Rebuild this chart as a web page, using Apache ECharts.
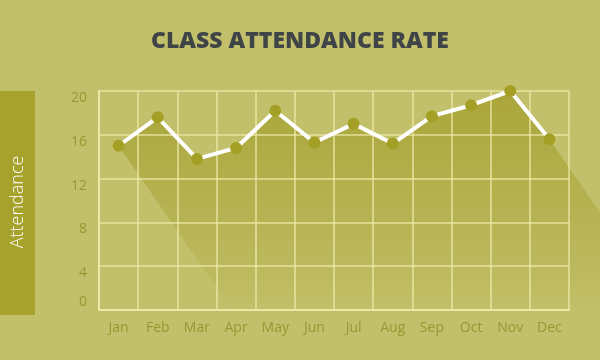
<!DOCTYPE html>
<html>
<head>
<meta charset="utf-8">
<script src="https://cdn.jsdelivr.net/npm/echarts@6/dist/echarts.min.js"></script>
<style>
  html, body { margin: 0; padding: 0; background: #c3c06b; }
  #chart { width: 600px; height: 360px; }
</style>
</head>
<body>
<div id="chart"></div>
<script>
const months = ['Jan','Feb','Mar','Apr','May','Jun','Jul','Aug','Sep','Oct','Nov','Dec'];
const attendance = [15, 17.6, 13.8, 14.8, 18.2, 15.3, 17.0, 15.2, 17.7, 18.7, 20, 15.6];
const yTicks = [0, 4, 8, 12, 16, 20];
const titleText = 'CLASS ATTENDANCE RATE';
const yAxisTitle = 'Attendance';

const chart = echarts.init(document.getElementById('chart'));

function renderShadow(params, api) {
  const pts = attendance.map((v, i) => api.coord([i, v]));
  const dx = 1, dy = 1.45, L = 400;
  const off = pts.map(p => [p[0] + dx * L, p[1] + dy * L]).reverse();
  return {
    type: 'polygon',
    shape: { points: pts.concat(off) },
    style: {
      fill: new echarts.graphic.LinearGradient(0, 95, 0, 314, [
        { offset: 0, color: 'rgba(150,145,20,0.55)' },
        { offset: 0.85, color: 'rgba(150,145,20,0.12)' },
        { offset: 1, color: 'rgba(150,145,20,0.0)' }
      ], true)
    }
  };
}

const labelStyle = { color: '#9a9632', fontFamily: 'Open Sans', fontWeight: 400, fontSize: 14 };

chart.setOption({
  backgroundColor: '#c3c06b',
  animation: false,
  title: {
    text: titleText,
    left: 'center',
    top: 25,
    textStyle: { fontFamily: 'Open Sans', fontWeight: 800, fontSize: 23, color: '#3f4547' }
  },
  grid: { left: 99, right: 31, top: 91, bottom: 50 },
  xAxis: {
    type: 'category',
    data: months,
    boundaryGap: true,
    axisLine: { show: true, lineStyle: { color: 'rgba(238,234,170,0.85)', width: 2 } },
    axisTick: { show: false },
    splitLine: { show: true, interval: 0, lineStyle: { color: 'rgba(238,234,170,0.85)', width: 1.5 } },
    axisLabel: Object.assign({ margin: 11, interval: 0 }, labelStyle)
  },
  yAxis: {
    type: 'value',
    min: 0, max: 20, interval: 4,
    axisLine: { show: true, lineStyle: { color: 'rgba(238,234,170,0.85)', width: 2 } },
    axisTick: { show: false },
    splitLine: { show: true, lineStyle: { color: 'rgba(238,234,170,0.85)', width: 1.5 } },
    axisLabel: Object.assign({
      margin: 12,
      formatter: v => yTicks.includes(v) ? (v === 0 ? '{u|' + v + '}' : '{d|' + v + '}') : '',
      rich: {
        d: Object.assign({ padding: [14, 0, 0, 0] }, labelStyle),
        u: Object.assign({ padding: [0, 0, 16, 0] }, labelStyle)
      }
    }, labelStyle)
  },
  graphic: [
    { type: 'rect', left: 0, top: 91, shape: { width: 35, height: 224 }, style: { fill: '#a6a22b' }, z: 10 },
    { type: 'text', x: 18, y: 202, rotation: Math.PI / 2,
      style: { text: yAxisTitle, fill: '#ffffff', font: '300 18px "Open Sans"', align: 'center', verticalAlign: 'middle' }, z: 11 }
  ],
  series: [
    {
      type: 'custom',
      z: -1,
      clip: false,
      silent: true,
      renderItem: renderShadow,
      data: [0]
    },
    {
      type: 'line',
      data: attendance,
      z: 5,
      symbol: 'circle',
      symbolSize: 12,
      itemStyle: { color: '#a4a026', borderWidth: 0 },
      lineStyle: { color: '#ffffff', width: 4 }
    }
  ]
});
</script>
</body>
</html>
